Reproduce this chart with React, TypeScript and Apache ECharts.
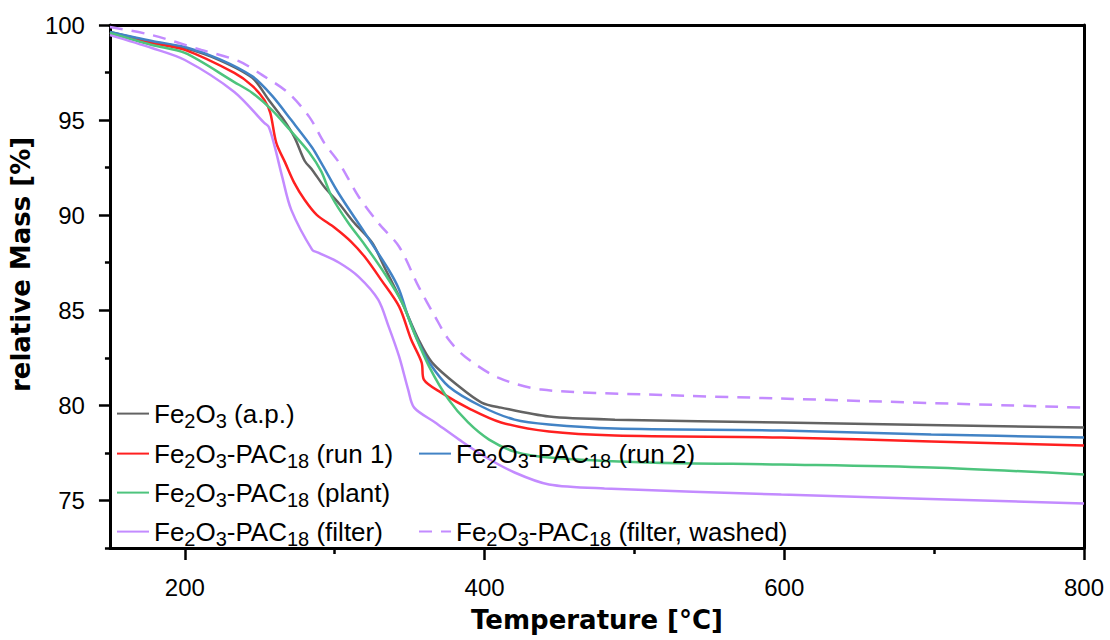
import React, { useEffect, useRef } from "react";
import * as echarts from "echarts";

// ---- data (temperature in °C, relative mass in %) ----
const apT = [150, 178, 200, 223, 245, 256, 265, 273, 280, 285, 293, 303, 313, 325, 333, 336, 345, 356, 365, 383, 398, 411, 443, 487, 598, 800];
const apM = [99.63, 99.11, 98.79, 98.16, 97.22, 96.06, 95.12, 94.12, 92.85, 92.38, 91.49, 90.6, 89.6, 88.55, 87.29, 86.82, 85.4, 83.45, 82.25, 80.99, 80.15, 79.88, 79.41, 79.25, 79.1, 78.83];

const r1T = [150, 178, 200, 233, 245, 253, 257, 261, 267, 273, 280, 288, 300, 311, 320, 331, 343, 351, 358, 359.5, 371, 391, 411, 443, 487, 598, 698, 800];
const r1M = [99.58, 99.05, 98.69, 97.48, 96.8, 96.06, 95.38, 93.8, 92.75, 91.7, 90.8, 90.02, 89.34, 88.6, 87.81, 86.6, 85.19, 83.46, 82.25, 81.35, 80.67, 79.78, 79.1, 78.62, 78.41, 78.31, 78.1, 77.89];

const r2T = [150, 178, 200, 223, 245, 258, 271, 285, 291, 303, 320, 336, 343, 349, 356, 363, 376, 398, 420, 443, 487, 598, 698, 800];
const r2M = [99.63, 99.16, 98.84, 98.21, 97.3, 96.3, 95.0, 93.55, 92.75, 91.1, 89.08, 87.13, 86.08, 84.66, 83.3, 82.25, 80.99, 79.94, 79.25, 78.99, 78.78, 78.68, 78.47, 78.31];

const plT = [150, 178, 200, 233, 245, 258, 270, 283, 291, 298, 309, 320, 333, 345, 353, 363, 376, 389, 403, 420, 443, 509, 598, 698, 800];
const plM = [99.58, 98.95, 98.53, 97.0, 96.43, 95.54, 94.49, 93.3, 92.3, 90.97, 89.6, 88.45, 86.97, 85.4, 83.82, 82.04, 80.3, 79.1, 78.2, 77.57, 77.26, 77.0, 76.89, 76.73, 76.37];

const fiT = [150, 178, 200, 233, 253, 256, 260, 265, 271, 285, 289, 303, 316, 329, 336, 343, 349, 353, 367, 383, 400, 420, 443, 480, 598, 800];
const fiM = [99.47, 98.79, 98.16, 96.48, 94.85, 94.64, 93.59, 92.0, 90.28, 88.18, 88.03, 87.5, 86.76, 85.56, 84.14, 82.56, 80.83, 79.88, 79.1, 78.2, 77.31, 76.47, 75.84, 75.63, 75.31, 74.84];

const waT = [150, 178, 211, 236, 253, 269, 283, 293, 303, 316, 329, 343, 356, 367, 376, 387, 409, 438, 509, 598, 800];
const waM = [99.9, 99.47, 98.69, 98.1, 97.3, 96.43, 95.17, 93.8, 92.75, 90.97, 89.6, 88.34, 86.24, 84.66, 83.46, 82.56, 81.46, 80.83, 80.57, 80.36, 79.88];

const names = [
  "Fe2O3 (a.p.)",
  "Fe2O3-PAC18 (run 1)",
  "Fe2O3-PAC18 (run 2)",
  "Fe2O3-PAC18 (plant)",
  "Fe2O3-PAC18 (filter)",
  "Fe2O3-PAC18 (filter, washed)",
];

const xMajor = [200, 400, 600, 800];
const xMinor = [300, 500, 700];
const yMajor = [75, 80, 85, 90, 95, 100];
const yMinor = [72.5, 77.5, 82.5, 87.5, 92.5, 97.5];

const FONT = '"Liberation Sans", Arial, sans-serif';
const TITLE_FONT = '"DejaVu Sans", "Liberation Sans", sans-serif';

const zip = (t: number[], m: number[]) => t.map((v, i) => [v, m[i]]);

const richName = (name: string) =>
  name
    .replace(/^Fe2O3/, "{n|Fe}{s|2}{n|O}{s|3}")
    .replace(/-PAC18/, "{n|-PAC}{s|18}")
    .replace(/ \((.*)\)$/, "{n| ($1)}");

export default function App() {
  const ref = useRef<HTMLDivElement>(null);

  useEffect(() => {
    if (!ref.current) return;
    const chart = echarts.init(ref.current, undefined, { renderer: "svg" });

    const colors = ["#636363", "#FF2020", "#4283C5", "#4DC47D", "#C38BFF", "#C38BFF"];
    const datasets = [
      zip(apT, apM),
      zip(r1T, r1M),
      zip(r2T, r2M),
      zip(plT, plM),
      zip(fiT, fiM),
      zip(waT, waM),
    ];

    const series = names.map((n, i) => ({
      name: n,
      type: "line",
      data: datasets[i],
      xAxisIndex: 0,
      yAxisIndex: 0,
      symbol: "none",
      smooth: 0.3,
      color: colors[i],
      lineStyle: {
        color: colors[i],
        width: 2.5,
        type: i === 5 ? [13, 9] : "solid",
      },
      z: 2,
    }));

    const legendPos: [number, number][] = [
      [116, 400],
      [116, 440],
      [418, 440],
      [116, 479],
      [116, 518],
      [418, 518],
    ];

    const legend = names.map((n, i) => ({
      data: [n],
      left: legendPos[i][0],
      top: legendPos[i][1],
      padding: 0,
      itemWidth: 32,
      itemHeight: 34,
      selectedMode: false,
      itemStyle: { opacity: 0, borderWidth: 0 },
      formatter: (name: string) => richName(name),
      textStyle: {
        color: "#000",
        rich: {
          n: { fontSize: 26, fontFamily: FONT, color: "#000", lineHeight: 34 },
          s: { fontSize: 20, fontFamily: FONT, color: "#000", lineHeight: 20, verticalAlign: "bottom" },
        },
      },
    }));

    const axisLine = { show: true, onZero: false, lineStyle: { color: "#000", width: 3 } };
    const tickStyle = { color: "#000", width: 2.5 };

    chart.setOption({
      animation: false,
      grid: { left: 108, right: 26, top: 25, bottom: 92, containLabel: false },
      legend,
      xAxis: [
        {
          type: "value",
          min: 150,
          max: 800,
          position: "bottom",
          axisLine,
          axisTick: { show: true, customValues: xMajor, length: 12, lineStyle: tickStyle },
          axisLabel: { customValues: xMajor, fontSize: 24, fontFamily: FONT, color: "#000", margin: 27 },
          splitLine: { show: false },
          name: "Temperature [°C]",
          nameLocation: "middle",
          nameGap: 59,
          nameTextStyle: { fontSize: 26, fontWeight: "bold", fontFamily: TITLE_FONT, color: "#000" },
        },
        {
          type: "value",
          min: 150,
          max: 800,
          position: "bottom",
          axisLine: { show: false },
          axisTick: { show: true, customValues: xMinor, length: 6, lineStyle: tickStyle },
          axisLabel: { show: false },
          splitLine: { show: false },
        },
        {
          type: "value",
          min: 150,
          max: 800,
          position: "top",
          axisLine,
          axisTick: { show: false },
          axisLabel: { show: false },
          splitLine: { show: false },
        },
      ],
      yAxis: [
        {
          type: "value",
          min: 72.5,
          max: 100,
          position: "left",
          axisLine,
          axisTick: { show: true, customValues: yMajor, length: 11, lineStyle: tickStyle },
          axisLabel: { customValues: yMajor, fontSize: 24, fontFamily: FONT, color: "#000", margin: 25 },
          splitLine: { show: false },
          name: "relative Mass [%]",
          nameLocation: "middle",
          nameRotate: 90,
          nameGap: 64,
          nameTextStyle: {
            fontSize: 26,
            fontWeight: "bold",
            fontFamily: TITLE_FONT,
            color: "#000",
            padding: [0, 0, 0, 44],
          },
        },
        {
          type: "value",
          min: 72.5,
          max: 100,
          position: "left",
          axisLine: { show: false },
          axisTick: { show: true, customValues: yMinor, length: 5, lineStyle: tickStyle },
          axisLabel: { show: false },
          splitLine: { show: false },
        },
        {
          type: "value",
          min: 72.5,
          max: 100,
          position: "right",
          axisLine,
          axisTick: { show: false },
          axisLabel: { show: false },
          splitLine: { show: false },
        },
      ],
      series,
    });

    return () => chart.dispose();
  }, []);

  return (
    <div
      ref={ref}
      style={{ position: "fixed", left: 0, top: 0, width: 1110, height: 640, background: "#fff" }}
    />
  );
}
